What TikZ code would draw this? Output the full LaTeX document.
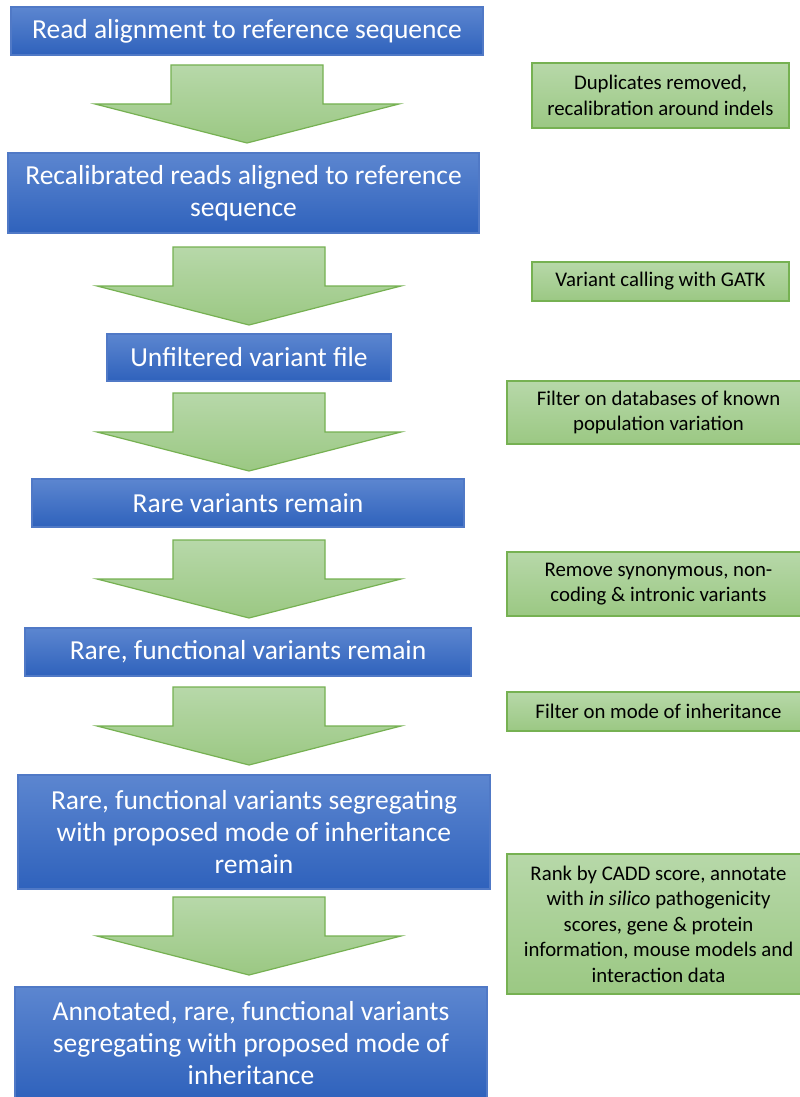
\documentclass[tikz,border=0pt]{standalone}
\usepackage{fontspec}
\setmainfont{Carlito}
\definecolor{bluetop}{HTML}{5C86D0}
\definecolor{bluebot}{HTML}{2F62BC}
\definecolor{blueedge}{HTML}{5079C6}
\definecolor{greentop}{HTML}{B7D8A9}
\definecolor{greenbot}{HTML}{9BC883}
\definecolor{greenedge}{HTML}{76B152}
\tikzset{
  bluebox/.style={draw=blueedge, line width=1.2pt, top color=bluetop, bottom color=bluebot,
    text=white, align=center, inner sep=0pt,
    font=\fontsize{27.5}{32}\selectfont},
  notebox/.style={draw=greenedge, line width=1.2pt, top color=greentop, bottom color=greenbot,
    text=black, align=center, inner sep=0pt,
    font=\fontsize{20.8}{25.5}\selectfont},
  flowarrow/.style={draw=greenedge, line width=1.2pt, top color=greentop, bottom color=greenbot, line join=miter}
}
% block arrow pointing down: #1 = centre x, #2 = top y
\newcommand\blockdown[2]{%
  \path[flowarrow] (#1-76,#2) -- (#1+76,#2) -- (#1+76,#2+39) -- (#1+152,#2+39)
    -- (#1,#2+78) -- (#1-152,#2+39) -- (#1-76,#2+39) -- cycle;}
\begin{document}
\begin{tikzpicture}[x=1pt,y=-1pt]
\useasboundingbox (0,0) rectangle (800,1097);
\fill[white] (0,0) rectangle (800,1097);

% main pipeline
\node[bluebox, minimum width=472pt, minimum height=48pt] (s1) at (247,31) {Read alignment to reference sequence};
\node[bluebox, minimum width=471pt, minimum height=80pt] (s2) at (243.5,193) {Recalibrated reads aligned to reference\\sequence};
\node[bluebox, minimum width=284pt, minimum height=47pt] (s3) at (249,357.5) {Unfiltered variant file};
\node[bluebox, minimum width=432pt, minimum height=48pt] (s4) at (248,503) {Rare variants remain};
\node[bluebox, minimum width=446pt, minimum height=48pt] (s5) at (248,652) {Rare, functional variants remain};
\node[bluebox, minimum width=472pt, minimum height=114pt] (s6) at (254,832) {Rare, functional variants segregating\\with proposed mode of inheritance\\remain};
\node[bluebox, minimum width=472pt, minimum height=112pt] (s7) at (251,1043) {Annotated, rare, functional variants\\segregating with proposed mode of\\inheritance};

% arrows between stages
\blockdown{247}{65}
\blockdown{249}{247}
\blockdown{249}{393}
\blockdown{249}{540}
\blockdown{249}{687}
\blockdown{249}{897}

% processing steps
\node[notebox, minimum width=257pt, minimum height=65pt] (p1) at (660.5,95.5) {Duplicates removed,\\recalibration around indels};
\node[notebox, minimum width=257pt, minimum height=39pt] (p2) at (660.5,281.5) {Variant calling with GATK};
\node[notebox, minimum width=303pt, minimum height=63pt] (p3) at (658.5,412.5) {Filter on databases of known\\population variation};
\node[notebox, minimum width=303pt, minimum height=64pt] (p4) at (658.5,584) {Remove synonymous, non-\\coding \& intronic variants};
\node[notebox, minimum width=303pt, minimum height=39pt] (p5) at (658.5,711.5) {Filter on mode of inheritance};
\node[notebox, minimum width=303pt, minimum height=140pt] (p6) at (658.5,924) {Rank by CADD score, annotate\\with \textit{in silico} pathogenicity\\scores, gene \& protein\\information, mouse models and\\interaction data};
\end{tikzpicture}
\end{document}
